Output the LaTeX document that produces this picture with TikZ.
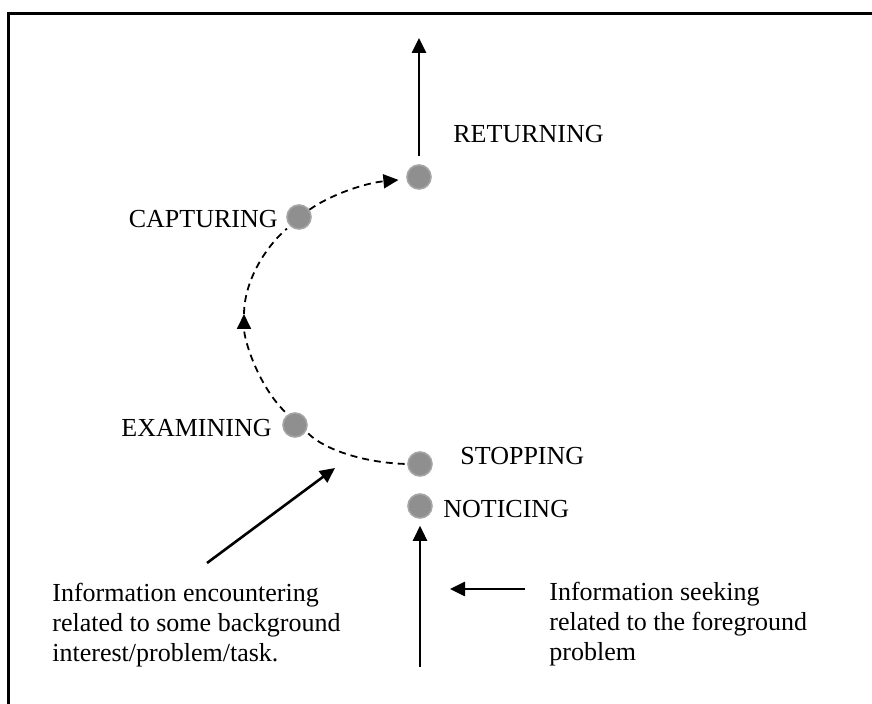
\documentclass[tikz,border=0pt]{standalone}
\usepackage{fontspec}
\setmainfont{Liberation Serif}
\usetikzlibrary{arrows.meta,positioning}

\definecolor{dotfill}{RGB}{143,143,143}
\definecolor{dotline}{RGB}{165,165,165}

\begin{document}
\begin{tikzpicture}[x=0.5pt,y=-0.5pt,
        >={Triangle[length=7.5pt,width=7pt]},
        stage/.style={circle,fill=dotfill,draw=dotline,line width=0.8pt,minimum size=12pt,inner sep=0pt},
        lbl/.style={font=\fontsize{13}{15}\selectfont,inner sep=0pt},
        note/.style={lbl,align=left,anchor=north west},
        flow/.style={->,line width=1.3pt},
        drift/.style={dash pattern=on 3.5pt off 2.5pt,line width=0.9pt}]
        \useasboundingbox (0,0) rectangle (872,704);
        % Frame
        \draw[line width=1.3pt] (8.5,13.5) rectangle (900,730);
        % Stages
        \node[stage] (ret) at (419,177) {};
        \node[stage] (cap) at (299,217) {};
        \node[stage] (exa) at (295,425) {};
        \node[stage] (sto) at (420,464) {};
        \node[stage] (not) at (420,506) {};
        % Stage names
        \node[lbl,anchor=base west] (retname) at (453,143) {RETURNING};
        \node[lbl,anchor=base east] (capname) at (278,228) {CAPTURING};
        \node[lbl,anchor=base east] (exaname) at (272,437) {EXAMINING};
        \node[lbl,anchor=base west] (stoname) at (460,465) {STOPPING};
        \node[lbl,anchor=base west] (notname) at (443,518) {NOTICING};
        % Notes
        \node[note] (encnote) at (52,583) {Information encountering\\related to some background\\interest/problem/task.};
        \node[note] (seeknote) at (549,582) {Information seeking\\related to the foreground\\problem};
        % Free ends
        \coordinate (exit) at (419,38);
        \coordinate (seekfoot) at (420,667);
        \coordinate (seektail) at (525,589);
        \coordinate (seektip) at (450,589);
        \coordinate (enctail) at (207,563);
        \coordinate (enctip) at (335,468);
        \coordinate (bend) at (244,314);
        % Solid arrows
        \draw[flow,shorten <=4pt] (ret) -- (exit);
        \draw[flow,shorten >=3.5pt] (seekfoot) -- (not);
        \draw[flow] (seektail) -- (seektip);
        \draw[flow] (enctail) -- (enctip);
        % Dashed path of the encounter
        \draw[drift,shorten <=1.5pt] (exa.-30) .. controls (325,450) and (365,463) .. (sto.180);
        \draw[drift,->,shorten <=2pt] (exa.125) .. controls (258,385) and (244,340) .. (bend);
        \draw[drift,shorten >=2pt] (bend) .. controls (244,285) and (262,250) .. (cap.225);
        \draw[drift,->,shorten >=4pt] (cap.35) .. controls (330,195) and (365,183) .. (ret.190);
\end{tikzpicture}
\end{document}
